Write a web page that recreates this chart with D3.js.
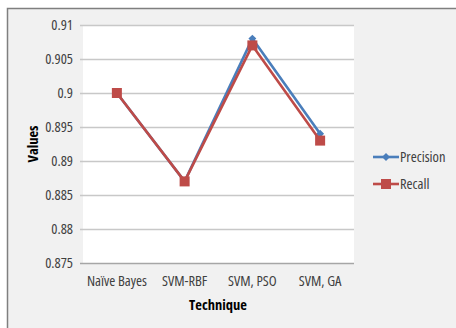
<!DOCTYPE html>
<html>
<head>
<meta charset="utf-8">
<script src="https://cdn.jsdelivr.net/npm/d3@7"></script>
<style>
  html, body { margin: 0; padding: 0; background: #ffffff; }
  svg { display: block; }
  text { font-stretch: condensed; }
</style>
</head>
<body>
<svg id="chart" width="456" height="328"></svg>
<script>
// Chart data
const techniques = ["Naïve Bayes", "SVM-RBF", "SVM, PSO", "SVM, GA"];
const precision = [0.900, 0.887, 0.908, 0.894];
const recall = [0.900, 0.887, 0.907, 0.893];
const yTicks = [0.875, 0.88, 0.885, 0.89, 0.895, 0.9, 0.905, 0.91];
const yTickLabels = ["0.875", "0.88", "0.885", "0.89", "0.895", "0.9", "0.905", "0.91"];
const seriesNames = ["Precision", "Recall"];

const font = "'Open Sans', sans-serif";
const fs = 14.5;
const svg = d3.select("#chart");

// Chart frame
svg.append("rect").attr("x", 7.5).attr("y", 8.5).attr("width", 460).attr("height", 330)
  .attr("fill", "#f1f1f1").attr("stroke", "#7f7f7f").attr("stroke-width", 1.5);

const plot = { left: 83, right: 354, top: 25, bottom: 263 };

const x = d3.scaleBand().domain(techniques).range([plot.left, plot.right]);
const y = d3.scaleLinear().domain([0.875, 0.91]).range([plot.bottom, plot.top]);

// Plot area
svg.append("rect").attr("x", plot.left).attr("y", plot.top)
  .attr("width", plot.right - plot.left).attr("height", plot.bottom - plot.top)
  .attr("fill", "#ffffff");

// Y axis with gridlines
const yAxis = d3.axisLeft(y).tickValues(yTicks)
  .tickFormat((d, i) => yTickLabels[i])
  .tickSize(-(plot.right - plot.left) - 3).tickPadding(7);
const gy = svg.append("g").attr("transform", `translate(${plot.left - 3},0)`).call(yAxis);
gy.select(".domain").remove();
gy.selectAll(".tick line").attr("stroke", "#c8c8c8").attr("stroke-width", 1.3);
gy.selectAll(".tick text").attr("font-family", font).attr("font-size", fs).attr("fill", "#404040");
gy.selectAll(".tick").filter(d => d === 0.875).select("line").attr("stroke", "#a6a6a6");

// X axis labels
const xAxis = d3.axisBottom(x).tickSize(0).tickPadding(13);
const gx = svg.append("g").attr("transform", `translate(0,${plot.bottom})`).call(xAxis);
gx.select(".domain").remove();
gx.selectAll(".tick text").attr("font-family", font).attr("font-size", fs).attr("fill", "#404040");

// Axis titles
svg.append("text").attr("x", 218).attr("y", 310)
  .attr("text-anchor", "middle").attr("font-family", font).attr("font-size", fs)
  .attr("font-weight", "bold").attr("fill", "#000").text("Technique");
svg.append("text").attr("transform", `translate(38,${(plot.top + plot.bottom) / 2}) rotate(-90)`)
  .attr("text-anchor", "middle").attr("font-family", font).attr("font-size", fs)
  .attr("font-weight", "bold").attr("fill", "#000").text("Values");

const colors = ["#4a7ebb", "#be4b48"];
const cx = d => x(d) + x.bandwidth() / 2;
const line = d3.line().x((d, i) => cx(techniques[i])).y(d => y(d));

// Series lines and markers
[precision, recall].forEach((vals, s) => {
  svg.append("path").datum(vals).attr("d", line)
    .attr("fill", "none").attr("stroke", colors[s]).attr("stroke-width", 2.6)
    .attr("stroke-linejoin", "round");
  const marks = svg.append("g");
  if (s === 0) {
    marks.selectAll("path").data(vals).join("path")
      .attr("d", d3.symbol(d3.symbolDiamond2, 40)())
      .attr("transform", (d, i) => `translate(${cx(techniques[i])},${y(d)})`)
      .attr("fill", colors[s]);
  } else {
    marks.selectAll("rect").data(vals).join("rect")
      .attr("x", (d, i) => cx(techniques[i]) - 5).attr("y", d => y(d) - 5)
      .attr("width", 10).attr("height", 10).attr("fill", colors[s]);
  }
});

// Legend
const legend = svg.append("g");
seriesNames.forEach((name, s) => {
  const ly = 157 + s * 27;
  legend.append("line").attr("x1", 373).attr("x2", 399).attr("y1", ly).attr("y2", ly)
    .attr("stroke", colors[s]).attr("stroke-width", 2.6);
  if (s === 0) {
    legend.append("path").attr("d", d3.symbol(d3.symbolDiamond2, 40)())
      .attr("transform", `translate(386,${ly})`).attr("fill", colors[s]);
  } else {
    legend.append("rect").attr("x", 381).attr("y", ly - 5).attr("width", 10).attr("height", 10)
      .attr("fill", colors[s]);
  }
  legend.append("text").attr("x", 400).attr("y", ly).attr("dy", "0.35em")
    .attr("font-family", font).attr("font-size", fs).attr("fill", "#404040").text(name);
});
</script>
</body>
</html>
